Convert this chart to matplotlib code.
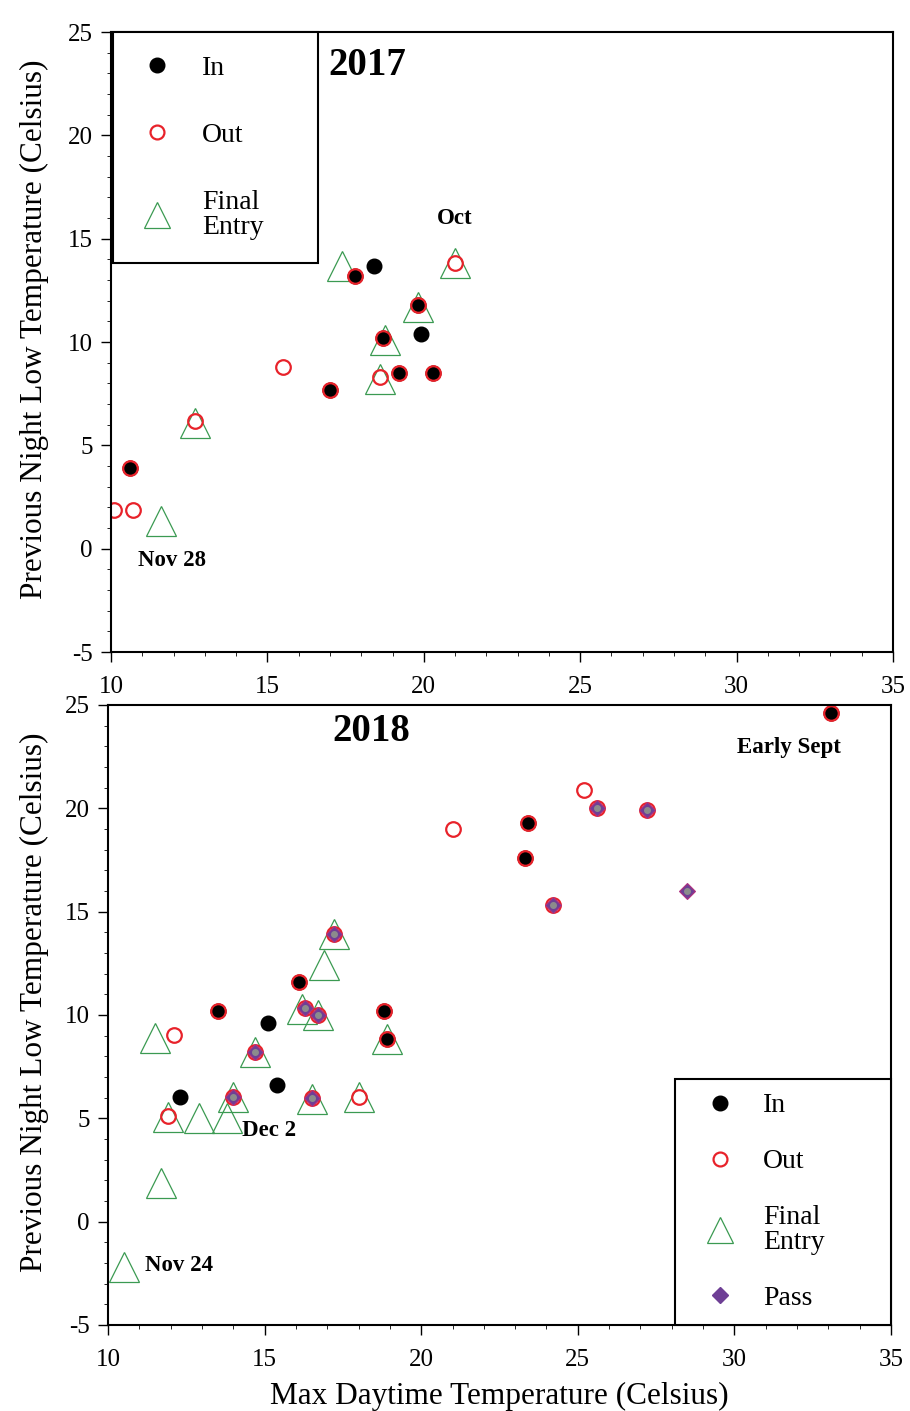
import numpy as np
import matplotlib
matplotlib.use("Agg")
import matplotlib.pyplot as plt
from matplotlib.lines import Line2D
from matplotlib.ticker import MultipleLocator

plt.rcParams.update({
    "font.family": "serif",
    "font.serif": ["Liberation Serif", "DejaVu Serif"],
    "axes.unicode_minus": False,
    "axes.linewidth": 1.5,
    "xtick.direction": "out",
    "ytick.direction": "out",
    "xtick.major.size": 7,
    "ytick.major.size": 7,
    "xtick.minor.size": 3,
    "ytick.minor.size": 3,
    "xtick.major.width": 1.0,
    "ytick.major.width": 1.0,
    "xtick.labelsize": 18,
    "ytick.labelsize": 18,
})

red = "#e8222a"
green = "#3b9a52"
purple = "#6e3f95"

# 2017 season
in17_x = [10.6, 17.8, 18.4, 19.8, 18.7, 19.9, 17.0, 19.2, 20.3]
in17_y = [3.9, 13.2, 13.7, 11.8, 10.2, 10.4, 7.7, 8.5, 8.5]
out17_x = [10.1, 10.7, 12.7, 15.5, 18.6, 21.0, 10.6, 17.8, 19.8, 18.7, 17.0, 19.2, 20.3]
out17_y = [1.85, 1.85, 6.2, 8.8, 8.3, 13.8, 3.9, 13.2, 11.8, 10.2, 7.7, 8.5, 8.5]
fin17_x = [17.4, 21.0, 19.8, 18.75, 18.6, 12.7, 11.6]
fin17_y = [13.7, 13.8, 11.7, 10.1, 8.2, 6.1, 1.35]

# 2018 season
in18_x = [15.1, 12.3, 15.4, 33.1, 23.4, 23.3, 16.1, 13.5, 18.8, 18.9]
in18_y = [9.6, 6.05, 6.6, 24.6, 19.3, 17.6, 11.6, 10.2, 10.2, 8.85]
out18_x = [25.2, 21.0, 12.1, 18.0, 11.9, 33.1, 23.4, 23.3, 16.1, 13.5, 18.8, 18.9,
           25.6, 27.2, 24.2, 17.2, 16.3, 16.7, 14.7, 14.0, 16.5]
out18_y = [20.9, 19.0, 9.05, 6.05, 5.1, 24.6, 19.3, 17.6, 11.6, 10.2, 10.2, 8.85,
           20.0, 19.9, 15.3, 13.9, 10.35, 10.0, 8.2, 6.05, 6.0]
fin18_x = [16.9, 17.2, 16.2, 16.7, 18.9, 11.5, 14.7, 14.0, 16.5, 18.0, 11.9, 12.9, 13.8, 11.7, 10.5]
fin18_y = [12.4, 13.9, 10.3, 10.0, 8.85, 8.9, 8.2, 6.05, 5.95, 6.05, 5.05, 5.0, 5.0, 1.85, -2.2]
pass18_x = [25.6, 27.2, 24.2, 17.2, 16.3, 16.7, 14.7, 14.0, 16.5, 28.5]
pass18_y = [20.0, 19.9, 15.3, 13.9, 10.35, 10.0, 8.2, 6.05, 6.0, 16.0]

fig = plt.figure(figsize=(9.1, 14.11), dpi=100)
ax1 = fig.add_axes([0.1220, 0.5379, 0.8593, 0.4394])
ax2 = fig.add_axes([0.1187, 0.0610, 0.8604, 0.4394])


def draw(ax, inx, iny, outx, outy, finx, finy, passx=None, passy=None):
    ax.plot(finx, finy, ls="none", marker="^", ms=21, mfc="none", mec=green, mew=0.9)
    ax.plot(inx, iny, ls="none", marker="o", ms=10.5, mfc="black", mec="black", mew=1)
    ax.plot(outx, outy, ls="none", marker="o", ms=10.5, mfc="none", mec=red, mew=1.6)
    if passx is not None:
        ax.plot(passx, passy, ls="none", marker="D", ms=8.5, mfc=purple, mec="#b0307e", mew=0.8)
        ax.plot(passx, passy, ls="none", marker="o", ms=4, mfc="#8c8c8c", mec="#8c8c8c")
    ax.set_xlim(10, 35)
    ax.set_ylim(-5, 25)
    ax.xaxis.set_major_locator(MultipleLocator(5))
    ax.yaxis.set_major_locator(MultipleLocator(5))
    ax.xaxis.set_minor_locator(MultipleLocator(1))
    ax.yaxis.set_minor_locator(MultipleLocator(1))
    ax.tick_params(which="both", top=False, right=False)
    ax.tick_params(axis="x", pad=10)
    ax.tick_params(axis="y", pad=6)
    ax.set_ylabel("Previous Night Low Temperature (Celsius)", fontsize=22.5)


draw(ax1, in17_x, in17_y, out17_x, out17_y, fin17_x, fin17_y)
draw(ax2, in18_x, in18_y, out18_x, out18_y, fin18_x, fin18_y, pass18_x, pass18_y)
ax1.yaxis.set_label_coords(-0.079, 0.52)
ax2.yaxis.set_label_coords(-0.075, 0.52)
ax2.set_xlabel("Max Daytime Temperature (Celsius)", fontsize=22.5, labelpad=8)

ax1.text(18.2, 23.4, "2017", fontsize=28, fontweight="bold", ha="center", va="center")
ax1.text(21.0, 16.0, "Oct", fontsize=16.5, fontweight="bold", ha="center", va="center")
ax1.text(11.95, -0.58, "Nov 28", fontsize=16.5, fontweight="bold", ha="center", va="center")

ax2.text(18.4, 23.7, "2018", fontsize=28, fontweight="bold", ha="center", va="center")
ax2.text(31.75, 22.93, "Early Sept", fontsize=16.5, fontweight="bold", ha="center", va="center")
ax2.text(15.15, 4.4, "Dec 2", fontsize=16.5, fontweight="bold", ha="center", va="center")
ax2.text(12.27, -2.13, "Nov 24", fontsize=16.5, fontweight="bold", ha="center", va="center")

h_in = Line2D([], [], ls="none", marker="o", ms=10.5, mfc="black", mec="black")
h_out = Line2D([], [], ls="none", marker="o", ms=10, mfc="none", mec=red, mew=1.6)
h_fin = Line2D([], [], ls="none", marker="^", ms=19, mfc="none", mec=green, mew=0.9)
h_pass = Line2D([], [], ls="none", marker="D", ms=8, mfc=purple, mec=purple)

leg_kw = dict(fontsize=20, mode="expand", borderaxespad=0, fancybox=False,
              framealpha=1, edgecolor="black")
leg1 = ax1.legend([h_in, h_out, h_fin], ["In", "Out", "Final\nEntry"],
                  loc="upper left", bbox_to_anchor=(0.003, 0.631, 0.262, 0.369),
                  labelspacing=1.5, borderpad=0.85, handlelength=1.47,
                  handletextpad=0.88, **leg_kw)
leg2 = ax2.legend([h_in, h_out, h_fin, h_pass], ["In", "Out", "Final\nEntry", "Pass"],
                  loc="lower left", bbox_to_anchor=(0.724, 0.0, 0.276, 0.392),
                  labelspacing=1.1, borderpad=0.5, handlelength=2.24,
                  handletextpad=0.43, **leg_kw)
for leg in (leg1, leg2):
    leg.get_frame().set_linewidth(1.5)
    for t in leg.get_texts():
        t.set_linespacing(1.0)

fig.savefig("out.png", dpi=100)
